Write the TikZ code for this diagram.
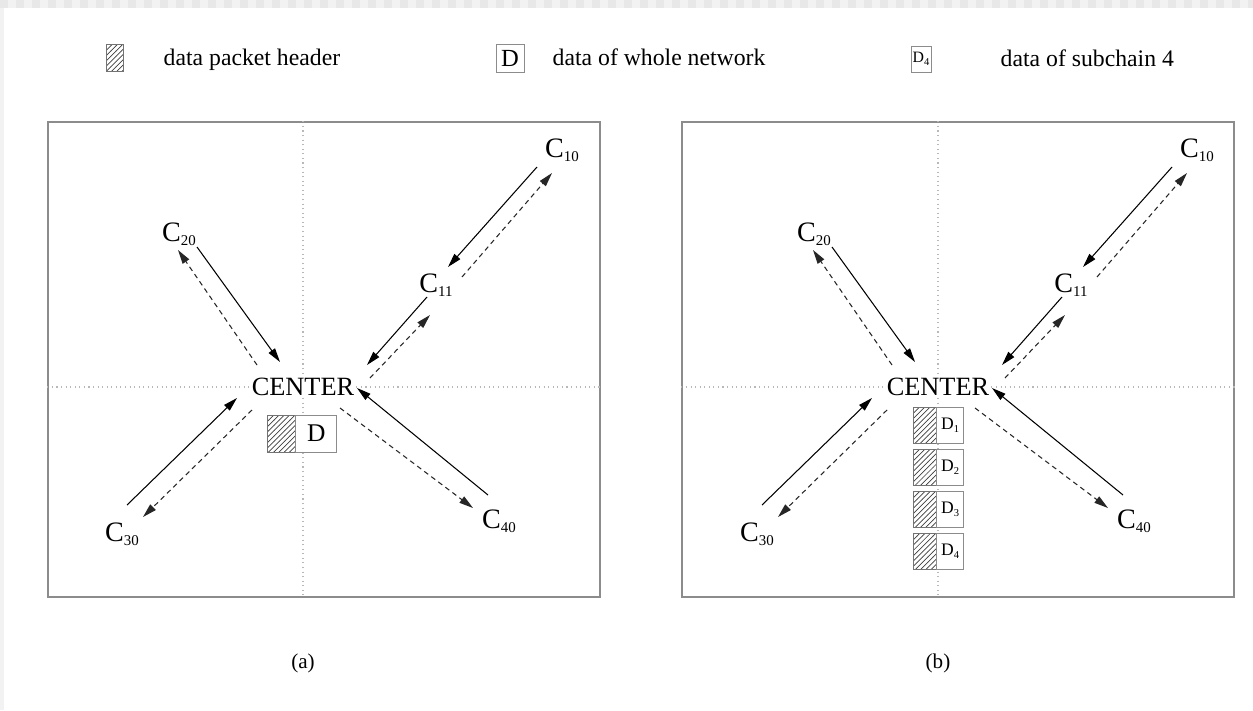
\documentclass[tikz,border=0pt]{standalone}
\usepackage{fontspec}
\setmainfont{Liberation Serif}
\usetikzlibrary{positioning,calc,patterns,arrows.meta}
\newcommand{\csub}[1]{\raisebox{-2.5pt}{\fontsize{8.5}{9}\selectfont #1}}
\newcommand{\dsub}[1]{\raisebox{-1.5pt}{\fontsize{6}{7}\selectfont #1}}

\begin{document}
\begin{tikzpicture}[
  x=0.02cm, y=-0.02cm,
  frame/.style={draw=black!45, line width=0.8pt, minimum width=11.04cm, minimum height=9.5cm, inner sep=0pt},
  guide/.style={draw=black!28, dotted, line width=0.6pt},
  chain/.style={inner sep=0pt, font=\fontsize{16}{18}\selectfont},
  hub/.style={inner sep=1pt, fill=white, font=\fontsize{15}{18}\selectfont},
  header/.style={draw=black!55, pattern=north east lines, pattern color=black!75, inner sep=0pt},
  payload/.style={draw=black!45, fill=white, inner sep=0pt},
  keytext/.style={inner sep=0pt, text height=0.7em, text depth=0.22em, yshift=-0.06cm, font=\fontsize{13.5}{16}\selectfont},
  send/.style={-{Triangle[length=8pt,width=4.4pt]}, line width=0.6pt},
  reply/.style={-{Triangle[length=8pt,width=4.4pt]}, line width=0.6pt, black!85, dash pattern=on 2.8pt off 2.2pt}
]
\useasboundingbox (0,0) rectangle (1253,710);
\fill[white] (0,0) rectangle (1253,710);
% transparency strip
\fill[black!5] (0,0) rectangle (1253,8);
\fill[black!5] (0,0) rectangle (4,710);
\foreach \x in {0,16,...,1248} \fill[black!9] (\x,0) rectangle ++(8,8);

% Legend
\node[header, minimum width=0.34cm, minimum height=0.54cm] (hdrkey) at (114.5,58) {};
\node[keytext, right=0.8cm of hdrkey] (hdrtxt) {data packet header};
\node[payload, minimum width=0.56cm, minimum height=0.56cm, font=\fontsize{14}{16}\selectfont] (dkey) at (510,58) {D};
\node[keytext, right=0.56cm of dkey] (dtxt) {data of whole network};
\node[payload, minimum width=0.4cm, minimum height=0.52cm, font=\fontsize{9}{10}\selectfont] (d4key) at (921,59) {D\dsub{4}};
\node[keytext, right=1.38cm of d4key] (d4txt) {data of subchain 4};

% Panel (a)
\node[frame] (panela) at (324,359.5) {};
\node[hub] (cena) at (303,387) {CENTER};
\draw[guide] (panela.west |- cena) -- (cena.west);
\draw[guide] (cena.east) -- (panela.east |- cena);
\draw[guide] (panela.north -| cena) -- (cena.north);
\draw[guide] (cena.south) -- (panela.south -| cena);
\node[chain] (c10a) at (562,150) {C\csub{10}};
\node[chain] (c11a) at (436,285) {C\csub{11}};
\node[chain] (c20a) at (179,234) {C\csub{20}};
\node[chain] (c30a) at (122,534) {C\csub{30}};
\node[chain] (c40a) at (499,521) {C\csub{40}};
\node[header, minimum width=0.56cm, minimum height=0.74cm] (hdra) at (281,433.5) {};
\node[payload, right=0pt of hdra, minimum width=0.82cm, minimum height=0.74cm, font=\fontsize{14.5}{16}\selectfont] (da) {D};

\draw[send] ($(c10a)+(-25,17)$) -- ($(c11a)+(12,-18)$);
\draw[reply] ($(c11a)+(26,-8)$) -- ($(c10a)+(-10,23)$);
\draw[send] ($(c11a)+(-9,12)$) -- ($(cena)+(64,-22)$);
\draw[reply] ($(cena)+(67,-9)$) -- ($(c11a)+(-6,30)$);
\draw[send] ($(c20a)+(18,13)$) -- ($(cena)+(-23,-25)$);
\draw[reply] ($(cena)+(-46,-22)$) -- ($(c20a)+(-1,16)$);
\draw[send] ($(c30a)+(5,-29)$) -- ($(cena)+(-66,11)$);
\draw[reply] ($(cena)+(-51,23)$) -- ($(c30a)+(21,-17)$);
\draw[send] ($(c40a)+(-11,-26)$) -- ($(cena)+(54,1)$);
\draw[reply] ($(cena)+(37,21)$) -- ($(c40a)+(-26,-13)$);

\node[font=\fontsize{12}{14}\selectfont] (capa) at (303,663) {(a)};

% Panel (b)
\node[frame] (panelb) at (958,359.5) {};
\node[hub] (cenb) at (938,387) {CENTER};
\draw[guide] (panelb.west |- cenb) -- (cenb.west);
\draw[guide] (cenb.east) -- (panelb.east |- cenb);
\draw[guide] (panelb.north -| cenb) -- (cenb.north);
\draw[guide] (cenb.south) -- (panelb.south -| cenb);
\node[chain] (c10b) at (1197,150) {C\csub{10}};
\node[chain] (c11b) at (1071,285) {C\csub{11}};
\node[chain] (c20b) at (814,234) {C\csub{20}};
\node[chain] (c30b) at (757,534) {C\csub{30}};
\node[chain] (c40b) at (1134,521) {C\csub{40}};
\node[header, minimum width=0.46cm, minimum height=0.72cm] (hdr1) at (924.5,425) {};
\node[payload, right=0pt of hdr1, minimum width=0.54cm, minimum height=0.72cm, font=\fontsize{10}{12}\selectfont] (d1) {D\dsub{1}};
\node[header, minimum width=0.46cm, minimum height=0.72cm] (hdr2) at (924.5,467) {};
\node[payload, right=0pt of hdr2, minimum width=0.54cm, minimum height=0.72cm, font=\fontsize{10}{12}\selectfont] (d2) {D\dsub{2}};
\node[header, minimum width=0.46cm, minimum height=0.72cm] (hdr3) at (924.5,509) {};
\node[payload, right=0pt of hdr3, minimum width=0.54cm, minimum height=0.72cm, font=\fontsize{10}{12}\selectfont] (d3) {D\dsub{3}};
\node[header, minimum width=0.46cm, minimum height=0.72cm] (hdr4) at (924.5,551) {};
\node[payload, right=0pt of hdr4, minimum width=0.54cm, minimum height=0.72cm, font=\fontsize{10}{12}\selectfont] (d4) {D\dsub{4}};

\draw[send] ($(c10b)+(-25,17)$) -- ($(c11b)+(12,-18)$);
\draw[reply] ($(c11b)+(26,-8)$) -- ($(c10b)+(-10,23)$);
\draw[send] ($(c11b)+(-9,12)$) -- ($(cenb)+(64,-22)$);
\draw[reply] ($(cenb)+(67,-9)$) -- ($(c11b)+(-6,30)$);
\draw[send] ($(c20b)+(18,13)$) -- ($(cenb)+(-23,-25)$);
\draw[reply] ($(cenb)+(-46,-22)$) -- ($(c20b)+(-1,16)$);
\draw[send] ($(c30b)+(5,-29)$) -- ($(cenb)+(-66,11)$);
\draw[reply] ($(cenb)+(-51,23)$) -- ($(c30b)+(21,-17)$);
\draw[send] ($(c40b)+(-11,-26)$) -- ($(cenb)+(54,1)$);
\draw[reply] ($(cenb)+(37,21)$) -- ($(c40b)+(-26,-13)$);

\node[font=\fontsize{12}{14}\selectfont] (capb) at (938,663) {(b)};
\end{tikzpicture}
\end{document}
